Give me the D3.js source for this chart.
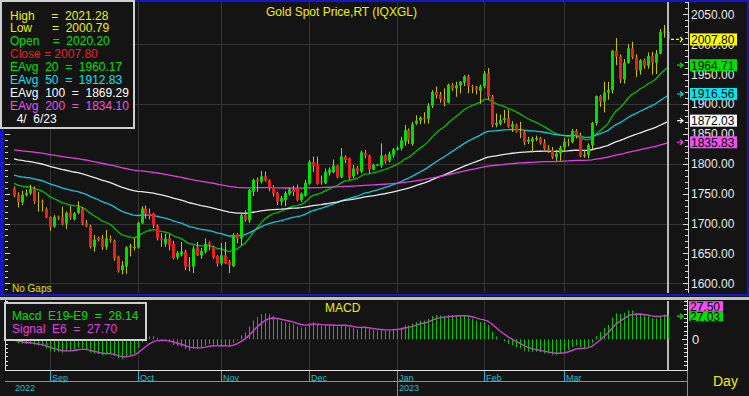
<!DOCTYPE html>
<html>
<head>
<meta charset="utf-8">
<script src="https://cdn.jsdelivr.net/npm/d3@7"></script>
<style>
  body { margin: 0; background: #141414; }
  svg { display: block; font-family: "Liberation Sans", Arial, sans-serif; }
  text { white-space: pre; }
</style>
</head>
<body>
<svg id="chart" width="749" height="396"></svg>
<script>
// daily bars, Aug 19 2022 .. Apr 6 2023 (weekdays)
var opens = [
  1759,1748,1735,1748,1751,1758,1738,1737,1724,1711,
  1695,1712,1711,1700,1718,1707,1718,1725,1701,1695,
  1661,1676,1675,1661,1675,1671,1645,1622,1628,1660,
  1661,1660,1701,1725,1717,1717,1696,1675,1666,1675,
  1666,1644,1648,1653,1630,1628,1660,1647,1653,1668,
  1661,1646,1633,1647,1636,1629,1682,1675,1714,1705,
  1753,1774,1770,1779,1772,1761,1751,1737,1739,1749,
  1757,1759,1739,1747,1767,1803,1799,1771,1768,1785,
  1786,1797,1778,1812,1809,1779,1793,1787,1818,1814,
  1791,1798,1797,1814,1805,1815,1825,1826,1838,1856,
  1833,1867,1872,1877,1875,1897,1920,1915,1908,1902,
  1932,1926,1931,1936,1946,1930,1928,1922,1929,1951,
  1912,1865,1867,1873,1876,1861,1865,1854,1853,1837,
  1837,1842,1843,1835,1825,1822,1811,1817,1827,1837,
  1836,1855,1847,1813,1815,1831,1868,1913,1904,1919,
  1923,1989,1979,1941,1969,1993,1978,1956,1973,1964,
  1980,1969,1984,2020,2020.20
];
var highs = [
  1762,1752,1755,1757,1765,1762,1753,1740,1727,1712,
  1714,1713,1728,1720,1730,1719,1737,1728,1706,1698,
  1681,1678,1681,1689,1680,1673,1646,1637,1662,1666,
  1676,1703,1729,1730,1725,1718,1698,1684,1683,1682,
  1671,1654,1669,1656,1644,1662,1669,1659,1675,1670,
  1663,1647,1667,1669,1639,1684,1684,1717,1722,1758,
  1775,1777,1788,1787,1774,1764,1753,1746,1754,1760,
  1763,1765,1752,1773,1806,1812,1812,1780,1792,1794,
  1807,1798,1826,1814,1810,1798,1796,1822,1823,1815,
  1800,1799,1834,1816,1820,1826,1829,1845,1865,1859,
  1870,1881,1879,1886,1901,1923,1929,1920,1926,1934,
  1935,1937,1938,1948,1949,1932,1930,1932,1955,1960,
  1915,1884,1882,1890,1890,1871,1867,1870,1856,1845,
  1845,1847,1845,1841,1831,1828,1823,1830,1843,1842,
  1858,1858,1852,1823,1834,1870,1914,1915,1937,1937,
  1990,2010,1983,1975,2000,2004,1983,1975,1976,1986,
  1987,1990,2025,2032,2021.28
];
var lows = [
  1744,1727,1731,1745,1748,1733,1720,1720,1709,1688,
  1693,1706,1697,1691,1706,1705,1716,1697,1694,1658,
  1653,1670,1656,1656,1668,1638,1618,1615,1616,1645,
  1655,1658,1699,1708,1707,1692,1672,1661,1661,1655,
  1640,1640,1645,1622,1620,1617,1646,1641,1650,1655,
  1641,1628,1630,1632,1617,1627,1667,1664,1703,1701,
  1746,1753,1767,1770,1754,1745,1731,1730,1729,1747,
  1746,1737,1736,1745,1765,1786,1765,1765,1766,1780,
  1784,1776,1776,1801,1773,1776,1782,1784,1809,1784,
  1789,1796,1793,1800,1802,1810,1822,1822,1830,1833,
  1830,1865,1866,1867,1867,1893,1909,1902,1896,1901,
  1922,1912,1918,1930,1918,1918,1916,1900,1926,1908,
  1861,1861,1864,1868,1860,1853,1852,1843,1831,1833,
  1819,1838,1832,1823,1818,1808,1805,1805,1820,1829,
  1834,1842,1811,1810,1809,1824,1864,1895,1886,1907,
  1918,1965,1935,1934,1967,1975,1945,1949,1959,1959,
  1949,1950,1983,2011,2000.79
];
var closes = [
  1747,1736,1748,1751,1758,1737,1736,1735,1710,1694,
  1711,1710,1700,1718,1710,1717,1727,1700,1695,1661,
  1673,1673,1660,1675,1672,1642,1621,1630,1660,1662,
  1661,1701,1725,1717,1713,1698,1675,1672,1675,1664,
  1642,1651,1653,1628,1628,1658,1647,1654,1666,1664,
  1644,1633,1647,1634,1631,1681,1675,1714,1706,1756,
  1773,1770,1779,1772,1760,1750,1736,1742,1751,1757,
  1753,1739,1750,1768,1803,1796,1766,1769,1786,1790,
  1797,1778,1812,1806,1776,1792,1787,1819,1814,1790,
  1798,1799,1814,1804,1816,1824,1826,1839,1856,1840,
  1866,1872,1877,1875,1897,1920,1915,1908,1904,1932,
  1926,1931,1937,1946,1930,1928,1924,1929,1951,1912,
  1865,1868,1873,1876,1862,1866,1854,1853,1836,1840,
  1842,1843,1835,1825,1822,1811,1817,1827,1837,1836,
  1855,1847,1813,1815,1831,1868,1913,1904,1919,1923,
  1989,1979,1941,1969,1993,1978,1956,1973,1964,1980,
  1969,1984,2020,2021,2007.80
];

// exponential averages: periods, value on the first bar, colours
var emaPeriods = [20, 50, 100, 200];
var emaStart = [1767, 1781, 1808, 1823];
var emaColors = ["#00c000", "#10c8d8", "#e8e8e8", "#e040e0"];
var emaLabelColors = ["#00e000", "#00e8f0", "#ffffff", "#f050f0"];
var emaLastLabel = ["1964.71", "1916.56", "1872.03", "1835.83"];
var emaLegend = ["1960.17", "1912.83", "1869.29", "1834.10"];

// MACD: fast 9, slow 19, signal 6
var macdStart = {fast: 1766, slow: 1768, signal: -1};
var macdLabels = {macd: "27.03", signal: "27.50"};
var macdLegend = {macd: "28.14", signal: "27.70"};

var priceTicks = [1600, 1650, 1700, 1750, 1800, 1850, 1900, 1950, 2000, 2050];
var priceGrid = [1600, 1700, 1800, 1900, 2000];
var lastClose = "2007.80";

var bg = "#141414";
var svg = d3.select("#chart");
var n = closes.length;

var dates = d3.timeDay.range(new Date(2022, 7, 19), new Date(2023, 3, 7))
    .filter(function(d) { return d.getDay() % 6 !== 0; });

var x = d3.scaleLinear().domain([0, n - 1]).range([14, 667.5]);
var y = d3.scaleLinear().domain([1600, 2050]).range([283.3, 14.2]);
var ym = d3.scaleLinear().domain([-36, 46]).range([370, 300]);

function ema(vals, period, start) {
  var a = 2 / (period + 1), out = [start];
  for (var i = 1; i < vals.length; i++) out.push(out[i - 1] + a * (vals[i] - out[i - 1]));
  return out;
}

var emas = emaPeriods.map(function(p, k) { return ema(closes, p, emaStart[k]); });
var fast = ema(closes, 9, macdStart.fast), slow = ema(closes, 19, macdStart.slow);
var macd = fast.map(function(v, i) { return v - slow[i]; });
var signal = ema(macd, 6, macdStart.signal);

// month boundaries (the running month at the right edge gets no mark)
var monthStarts = d3.range(1, n).filter(function(i) {
  return dates[i].getMonth() !== dates[i - 1].getMonth() && n - i > 10;
});
var fmtMonth = d3.timeFormat("%b");

svg.append("rect").attr("width", 749).attr("height", 396).attr("fill", bg);

// ---------- price panel ----------
var main = svg.append("g");

main.selectAll(".hgrid").data(priceGrid).enter().append("line")
    .attr("x1", 5).attr("x2", 686)
    .attr("y1", function(d) { return Math.round(y(d)) + 0.5; })
    .attr("y2", function(d) { return Math.round(y(d)) + 0.5; })
    .attr("stroke", "#343434");

main.selectAll(".vgrid").data(monthStarts).enter().append("line")
    .attr("x1", function(i) { return Math.round(x(i)) + 0.5; })
    .attr("x2", function(i) { return Math.round(x(i)) + 0.5; })
    .attr("y1", 2).attr("y2", 293)
    .attr("stroke", "#343434");

// cursor
svg.append("line").attr("x1", 668).attr("x2", 668).attr("y1", 2).attr("y2", 293)
    .attr("stroke", "#b8b8b8").attr("stroke-width", 2);
svg.append("line").attr("x1", 668).attr("x2", 668).attr("y1", 301).attr("y2", 370)
    .attr("stroke", "#b8b8b8").attr("stroke-width", 2);

emas.forEach(function(e, k) {
  main.append("path")
      .datum(e)
      .attr("fill", "none")
      .attr("stroke", emaColors[k])
      .attr("stroke-width", 1.3)
      .attr("d", d3.line().x(function(d, i) { return x(i); }).y(function(d) { return y(d); }));
});

var candle = main.selectAll(".candle").data(d3.range(n)).enter().append("g");
candle.append("line")
    .attr("x1", function(i) { return Math.round(x(i)) + 0.5; })
    .attr("x2", function(i) { return Math.round(x(i)) + 0.5; })
    .attr("y1", function(i) { return y(highs[i]); })
    .attr("y2", function(i) { return y(lows[i]); })
    .attr("stroke", "#c8c400");
candle.append("rect")
    .attr("x", function(i) { return Math.round(x(i)) - 1; })
    .attr("width", 3)
    .attr("y", function(i) { return y(Math.max(opens[i], closes[i])); })
    .attr("height", function(i) { return Math.max(1, Math.abs(y(opens[i]) - y(closes[i]))); })
    .attr("fill", function(i) { return closes[i] >= opens[i] ? "#00e000" : "#e82020"; });

// right price axis
var axisX = 688;
main.append("line").attr("x1", axisX + 0.5).attr("x2", axisX + 0.5).attr("y1", 2).attr("y2", 293)
    .attr("stroke", "#d8d8d8");
var minor = d3.range(1590, 2071, 10);
main.selectAll(".rtick").data(minor).enter().append("line")
    .attr("x1", function(d) { return d % 50 === 0 ? axisX - 5 : axisX - 3; })
    .attr("x2", axisX)
    .attr("y1", function(d) { return Math.round(y(d)) + 0.5; })
    .attr("y2", function(d) { return Math.round(y(d)) + 0.5; })
    .attr("stroke", "#d8d8d8");
main.selectAll(".ltick").data(minor).enter().append("line")
    .attr("x1", 5)
    .attr("x2", function(d) { return d % 50 === 0 ? 10 : 8; })
    .attr("y1", function(d) { return Math.round(y(d)) + 0.5; })
    .attr("y2", function(d) { return Math.round(y(d)) + 0.5; })
    .attr("stroke", "#d8d8d8");
main.selectAll(".plabel").data(priceTicks).enter().append("text")
    .attr("x", 691).attr("y", function(d) { return y(d) + 4.5; })
    .attr("fill", "#e8e8e8").attr("font-size", 12)
    .text(d3.format(".2f"));

// value flags on the right
function flag(yv, txt, fill) {
  main.append("rect").attr("x", 690).attr("y", yv - 6).attr("width", 47).attr("height", 12)
      .attr("fill", fill);
  main.append("text").attr("x", 691).attr("y", yv + 4.5).attr("fill", "#000")
      .attr("font-size", 12).text(txt);
}
function arrow(yv, color, dashed) {
  var p = main.append("path")
      .attr("d", "M" + (dashed ? 671 : 677) + "," + yv + "H683M680," + (yv - 2.5) + "L683," + yv + "L680," + (yv + 2.5))
      .attr("fill", "none").attr("stroke", color).attr("stroke-width", 1.2);
  if (dashed) p.attr("stroke-dasharray", "3,2");
}
var yc = y(+lastClose);
flag(yc, lastClose, "#ffff00");
arrow(yc, "#ffff00", true);
emaLastLabel.forEach(function(v, k) {
  flag(y(+v), v, emaLabelColors[k]);
  arrow(y(+v), emaLabelColors[k], false);
});

main.append("text").attr("x", 266).attr("y", 16).attr("fill", "#f0f000").attr("font-size", 12)
    .text("Gold Spot Price,RT (IQXGL)");
main.append("text").attr("x", 12).attr("y", 292).attr("fill", "#e0e000").attr("font-size", 10)
    .text("No Gaps");

// legend
var legend = svg.append("g");
legend.append("rect").attr("x", 1).attr("y", 1).attr("width", 133).attr("height", 127)
    .attr("fill", bg).attr("stroke", "#d0d0d0").attr("stroke-width", 2);
var last = n - 1;
var rows = [
  ["High     =  " + d3.format(".2f")(highs[last]), "#f0f000"],
  ["Low      =  " + d3.format(".2f")(lows[last]), "#f0f000"],
  ["Open    =  " + d3.format(".2f")(opens[last]), "#00e000"],
  ["Close = " + d3.format(".2f")(closes[last]), "#e82020"]
].concat(emaPeriods.map(function(p, k) {
  return ["EAvg  " + p + "  =  " + emaLegend[k], emaLabelColors[k]];
})).concat([["  4/  6/23", "#ffffff"]]);
legend.selectAll(".lrow").data(rows).enter().append("text")
    .attr("x", 10).attr("y", function(d, k) { return 19.5 + 12.9 * k; })
    .attr("fill", function(d) { return d[1]; })
    .attr("font-size", 12)
    .text(function(d) { return d[0]; });

// blue frame of the active panel
svg.append("rect").attr("x", 0).attr("y", 130).attr("width", 4).attr("height", 166).attr("fill", "#1414c8");
svg.append("rect").attr("x", 135).attr("y", 0).attr("width", 614).attr("height", 2).attr("fill", "#1414c8");
svg.append("rect").attr("x", 0).attr("y", 294).attr("width", 749).attr("height", 2).attr("fill", "#1414c8");
svg.append("rect").attr("x", 747).attr("y", 0).attr("width", 2).attr("height", 296).attr("fill", "#1414c8");
svg.append("rect").attr("x", 0).attr("y", 297).attr("width", 749).attr("height", 3).attr("fill", "#c0c0c0");

// ---------- MACD panel ----------
var mp = svg.append("g");
mp.selectAll(".vgrid").data(monthStarts).enter().append("line")
    .attr("x1", function(i) { return Math.round(x(i)) + 0.5; })
    .attr("x2", function(i) { return Math.round(x(i)) + 0.5; })
    .attr("y1", 301).attr("y2", 370)
    .attr("stroke", "#343434");
mp.selectAll(".hist").data(macd).enter().append("line")
    .attr("x1", function(d, i) { return Math.round(x(i)) + 0.5; })
    .attr("x2", function(d, i) { return Math.round(x(i)) + 0.5; })
    .attr("y1", ym(0))
    .attr("y2", function(d) { return ym(d); })
    .attr("stroke", "#00c800");
mp.append("path").datum(signal)
    .attr("fill", "none").attr("stroke", "#d040d0").attr("stroke-width", 1.4)
    .attr("d", d3.line().x(function(d, i) { return x(i); }).y(function(d) { return ym(d); }));

mp.append("line").attr("x1", 5.5).attr("x2", 5.5).attr("y1", 300).attr("y2", 370.5).attr("stroke", "#e0e0e0");
mp.append("line").attr("x1", 5).attr("x2", 687).attr("y1", 370.5).attr("y2", 370.5).attr("stroke", "#e0e0e0");
mp.append("line").attr("x1", 687.5).attr("x2", 687.5).attr("y1", 300).attr("y2", 371).attr("stroke", "#e0e0e0");
var mt = d3.range(-30, 46, 5);
mp.selectAll(".mtick").data(mt).enter().append("line")
    .attr("x1", function(d) { return d === 0 ? 682 : 684; }).attr("x2", 687)
    .attr("y1", function(d) { return Math.round(ym(d)) + 0.5; })
    .attr("y2", function(d) { return Math.round(ym(d)) + 0.5; })
    .attr("stroke", "#e0e0e0");
mp.selectAll(".mltick").data(mt).enter().append("line")
    .attr("x1", 5).attr("x2", 8)
    .attr("y1", function(d) { return Math.round(ym(d)) + 0.5; })
    .attr("y2", function(d) { return Math.round(ym(d)) + 0.5; })
    .attr("stroke", "#e0e0e0");
mp.append("text").attr("x", 692).attr("y", ym(0) + 5).attr("fill", "#e8e8e8").attr("font-size", 13).text("0");

var ymac = ym(+macdLabels.macd), ysig = ym(+macdLabels.signal);
if (Math.abs(ysig - ymac) < 10) ysig = ymac - 10;
mp.append("rect").attr("x", 689).attr("y", ysig - 5).attr("width", 34).attr("height", 10).attr("fill", "#f050f0");
mp.append("text").attr("x", 690).attr("y", ysig + 4.5).attr("fill", "#000").attr("font-size", 12).text(macdLabels.signal);
mp.append("rect").attr("x", 689).attr("y", ymac - 5).attr("width", 34).attr("height", 10).attr("fill", "#00e000");
mp.append("text").attr("x", 690).attr("y", ymac + 4.5).attr("fill", "#000").attr("font-size", 12).text(macdLabels.macd);
mp.append("path")
    .attr("d", "M677," + ymac + "H683M680," + (ymac - 2.5) + "L683," + ymac + "L680," + (ymac + 2.5))
    .attr("fill", "none").attr("stroke", "#00e000").attr("stroke-width", 1.2);

mp.append("text").attr("x", 325).attr("y", 312).attr("fill", "#f0f000").attr("font-size", 12).text("MACD");

var ml = mp.append("g");
ml.append("rect").attr("x", 5).attr("y", 303).attr("width", 141).attr("height", 37)
    .attr("fill", bg).attr("stroke", "#d0d0d0").attr("stroke-width", 2);
ml.append("text").attr("x", 12).attr("y", 319.5).attr("fill", "#00e000").attr("font-size", 12)
    .text("Macd  E19-E9  =  " + macdLegend.macd);
ml.append("text").attr("x", 12).attr("y", 333).attr("fill", "#e040e0").attr("font-size", 12)
    .text("Signal  E6  =  " + macdLegend.signal);

// ---------- time axis ----------
var ax = svg.append("g");
ax.append("line").attr("x1", 5).attr("x2", 687).attr("y1", 381.5).attr("y2", 381.5).attr("stroke", "#20b8c8");
ax.append("line").attr("x1", 687.5).attr("x2", 687.5).attr("y1", 371).attr("y2", 396).attr("stroke", "#20b8c8");
ax.selectAll(".mtick").data(monthStarts).enter().append("line")
    .attr("x1", function(i) { return Math.round(x(i)) + 0.5; })
    .attr("x2", function(i) { return Math.round(x(i)) + 0.5; })
    .attr("y1", 371)
    .attr("y2", function(i) { return dates[i].getMonth() === 0 ? 396 : 382; })
    .attr("stroke", "#20b8c8");
ax.selectAll(".mlabel").data(monthStarts).enter().append("text")
    .attr("x", function(i) { return Math.round(x(i)) + 2; })
    .attr("y", 380.5)
    .attr("fill", "#30b8c8").attr("font-size", 9)
    .text(function(i) { return fmtMonth(dates[i]); });
var yearStarts = [0].concat(monthStarts.filter(function(i) { return dates[i].getMonth() === 0; }));
ax.selectAll(".ylabel").data(yearStarts).enter().append("text")
    .attr("x", function(i) { return i === 0 ? 15 : Math.round(x(i)) + 2; })
    .attr("y", 390.5)
    .attr("fill", "#30b8c8").attr("font-size", 9)
    .text(function(i) { return dates[i].getFullYear(); });
ax.append("text").attr("x", 713).attr("y", 386).attr("fill", "#f0f000").attr("font-size", 14).text("Day");
</script>
</body>
</html>
